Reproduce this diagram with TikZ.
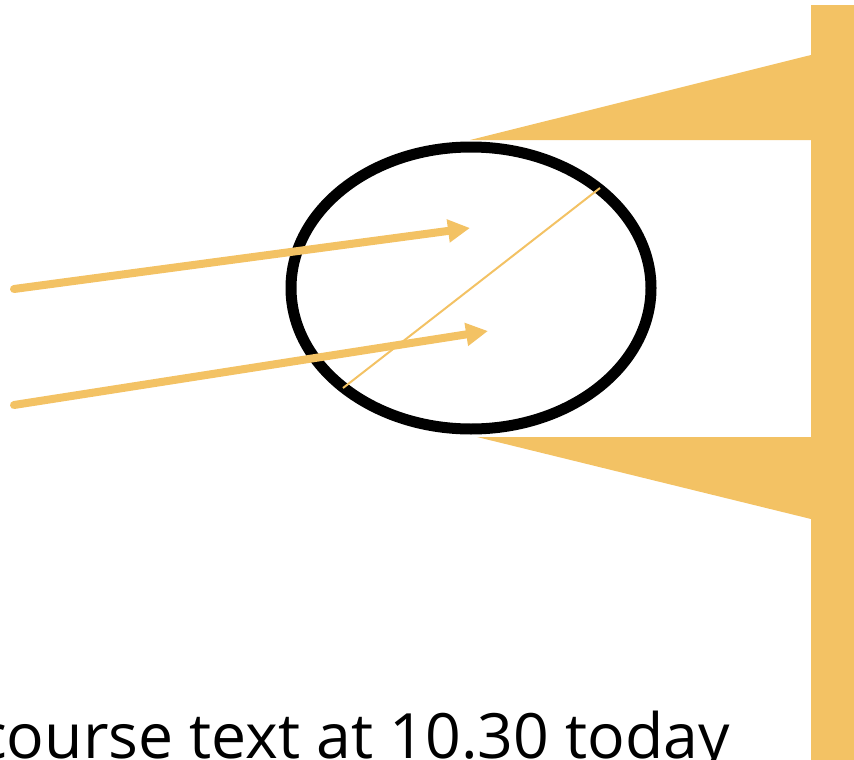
\documentclass[tikz,border=0pt]{standalone}
\usepackage{fontspec}
\setmainfont{Open Sans}
\usetikzlibrary{arrows.meta}
\definecolor{ocre}{HTML}{F3C264}

\begin{document}
\begin{tikzpicture}[x=1pt,y=-1pt,
    rayon/.style={ocre, line width=8pt, line cap=round, -{Triangle[length=22pt,width=22pt]}}]
        \useasboundingbox (0,0) rectangle (854,760);
        
        % Ecran et cone
        \fill[ocre] (811,5) rectangle (854,760);
        \fill[ocre] (470,140) -- (811,55) -- (811,140) -- cycle;
        \fill[ocre] (477,437) -- (811,437) -- (811,519) -- cycle;
        
        % Lentille
        \draw[line width=11pt] (471,288) ellipse (180 and 141);
        
        % Rayons
        \coordinate (R1) at (14,289);
        \coordinate (F1) at (470,228);
        \coordinate (R2) at (14,405);
        \coordinate (F2) at (488,331);
        \draw[rayon] (R1) -- (F1);
        \draw[rayon] (R2) -- (F2);
        
        % Axe oblique
        \coordinate (D1) at (343,388);
        \coordinate (D2) at (600,188);
        \draw[ocre, line width=2pt] (D1) -- (D2);
        
        % Texte
        \node[anchor=base east, inner sep=0pt, font=\fontsize{62.5}{70}\selectfont] (legende) at (730,758) {course text at 10.30 today};
    \end{tikzpicture}
\end{document}
